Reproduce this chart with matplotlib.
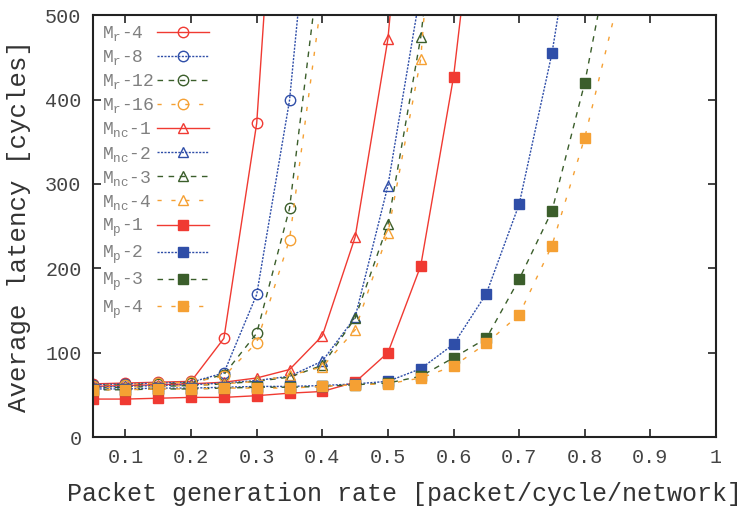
import matplotlib
matplotlib.use("Agg")
import matplotlib.pyplot as plt
import numpy as np

plt.rcParams['font.family'] = ['Liberation Mono', 'DejaVu Sans Mono']
plt.rcParams['mathtext.fontset'] = 'custom'
plt.rcParams['mathtext.rm'] = 'Liberation Mono'
plt.rcParams['mathtext.it'] = 'Liberation Mono'

# x values (packet generation rate)
rates = [0.05, 0.10, 0.15, 0.20, 0.25, 0.30, 0.35, 0.40, 0.45, 0.50,
         0.55, 0.60, 0.65, 0.70, 0.75, 0.80, 0.85]

labels = [r'M$_\mathrm{r}$-4', r'M$_\mathrm{r}$-8', r'M$_\mathrm{r}$-12', r'M$_\mathrm{r}$-16',
          r'M$_\mathrm{nc}$-1', r'M$_\mathrm{nc}$-2', r'M$_\mathrm{nc}$-3', r'M$_\mathrm{nc}$-4',
          r'M$_\mathrm{p}$-1', r'M$_\mathrm{p}$-2', r'M$_\mathrm{p}$-3', r'M$_\mathrm{p}$-4']

mr4 = [63, 64, 65, 66, 117, 372, 950]
mr8 = [62, 63, 64, 65, 76, 169, 399, 800]
mr12 = [61, 62, 63, 64, 74, 123, 271, 589]
mr16 = [61, 62, 64, 65, 72, 112, 234, 526]
mnc1 = [60, 61, 62, 63, 65, 70, 80, 120, 237, 472, 900]
mnc2 = [59, 60, 61, 62, 64, 67, 72, 90, 142, 298, 530]
mnc3 = [58, 59, 60, 61, 63, 66, 71, 85, 141, 252, 474, 800]
mnc4 = [58, 59, 60, 61, 63, 66, 73, 83, 127, 242, 448, 950]
mp1 = [45, 45, 46, 47, 47, 49, 52, 54, 65, 100, 203, 427, 760]
mp2 = [57, 57, 58, 58, 59, 60, 60, 61, 63, 66, 81, 110, 170, 276, 455, 695]
mp3 = [56, 56, 57, 57, 58, 59, 59, 60, 62, 64, 72, 94, 117, 187, 268, 420, 620]
mp4 = [56, 56, 57, 57, 58, 58, 58, 60, 62, 63, 70, 84, 111, 145, 227, 355, 515]

series = [mr4, mr8, mr12, mr16, mnc1, mnc2, mnc3, mnc4, mp1, mp2, mp3, mp4]

RED = '#f03a32'
BLUE = '#2f4ea8'
GREEN = '#3b5e2b'
ORANGE = '#f5a033'
colors = [RED, BLUE, GREEN, ORANGE] * 3
styles = ['-', (0, (1.5, 1)), (0, (4, 4)), (0, (3, 7))] * 3
markers = ['o'] * 4 + ['^'] * 4 + ['s'] * 4

fig = plt.figure(figsize=(7.51, 5.07), dpi=100)
ax = fig.add_axes([0.1234, 0.138, 0.8300, 0.8320])

for ys, lab, c, ls, m in zip(series, labels, colors, styles, markers):
    xs = rates[:len(ys)]
    filled = (m == 's')
    ax.plot(xs, ys, color=c, linestyle=ls, linewidth=1.0, marker=m,
            markersize=7.5 if m != 's' else 7,
            markerfacecolor=c if filled else 'none',
            markeredgecolor=c, markeredgewidth=1.0, label=lab, clip_on=True)

ax.set_xlim(0.05, 1.0)
ax.set_ylim(0, 500)
ax.set_xticks([0.1, 0.2, 0.3, 0.4, 0.5, 0.6, 0.7, 0.8, 0.9, 1.0])
ax.set_xticklabels(['0.1', '0.2', '0.3', '0.4', '0.5', '0.6', '0.7', '0.8', '0.9', '1'])
ax.set_yticks([0, 100, 200, 300, 400, 500])
ax.tick_params(direction='in', length=6, width=1.2, top=True, right=True,
               labelsize=14.5, colors='#222222', labelcolor='#444444', pad=8)
for s in ax.spines.values():
    s.set_linewidth(1.5)
    s.set_color('#222222')

ax.set_xlabel('Packet generation rate [packet/cycle/network]', fontsize=18,
              color='#333333', labelpad=11)
ax.set_ylabel('Average latency [cycles]', fontsize=18.5, color='#333333', labelpad=10)

leg = ax.legend(loc='upper left', frameon=False, fontsize=13, markerfirst=False,
                handlelength=2.9, handletextpad=0.15, labelspacing=0.28,
                borderaxespad=0.3, borderpad=0.2)
for t in leg.get_texts():
    t.set_color('#808080')

# left-align legend labels while keeping the handles in one column
fig.canvas.draw()
renderer = fig.canvas.get_renderer()
widths = [t.get_window_extent(renderer).width * 72.0 / fig.dpi for t in leg.get_texts()]
maxw = max(widths)
base_sep = 0.15 * 13
for col in leg._legend_handle_box.get_children():
    col.align = 'left'
    for item in col.get_children():
        txt = item.get_children()[0]
        w = txt._text.get_window_extent(renderer).width * 72.0 / fig.dpi
        item.sep = base_sep + (maxw - w)

fig.savefig('out.png', dpi=100)
